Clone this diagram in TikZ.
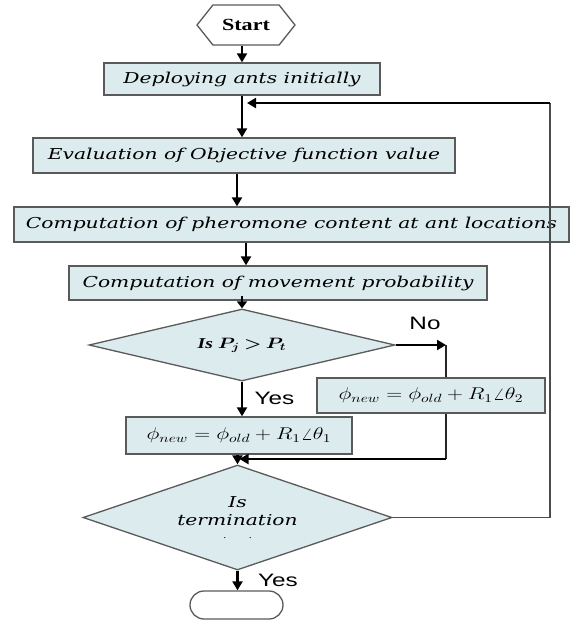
\RequirePackage{fix-cm}
\documentclass[tikz,border=0pt]{standalone}
\usepackage{amsmath,bm,graphicx}
\usepackage{fontspec}
\usetikzlibrary{shapes.geometric,shapes.symbols,shapes.misc,arrows.meta}
\newfontfamily\boxfont[FakeStretch=1.35]{DejaVu Serif}
\newfontfamily\startfont[FakeStretch=1.3]{Liberation Serif}
\newfontfamily\labfont[FakeStretch=1.35]{Liberation Sans}
\newcommand\hstr[1]{\scalebox{1.3}[1]{#1}}
\definecolor{boxfill}{HTML}{DCEBEE}
\definecolor{edgec}{HTML}{5A5A5A}
\tikzset{
  stepbox/.style={draw=edgec, line width=1.3pt, fill=boxfill, inner sep=0pt,
    font=\boxfont\itshape\fontsize{15}{18}\selectfont},
  mathbox/.style={draw=edgec, line width=1.3pt, fill=boxfill, inner sep=0pt,
    font=\fontsize{17}{20}\selectfont},
  decision/.style={diamond, draw=edgec, line width=1.3pt, fill=boxfill, inner sep=0pt,
    align=center},
  startshape/.style={signal, signal to=east and west, signal pointer angle=103,
    draw=edgec, line width=1.3pt, fill=white, inner sep=0pt,
    minimum width=98pt, minimum height=40pt,
    font=\startfont\bfseries\fontsize{17}{20}\selectfont},
  endshape/.style={rounded rectangle, draw=edgec, line width=1.3pt, fill=white,
    inner sep=0pt, minimum width=93pt, minimum height=28pt},
  lab/.style={font=\labfont\fontsize{18}{20}\selectfont, inner sep=0pt},
  arr/.style={draw=black, line width=2.2pt, -{Triangle[length=9pt,width=10pt]}},
  shortarr/.style={draw=black, line width=2.2pt, -{Triangle[length=7pt,width=10pt]}},
  conn/.style={draw=black!85, line width=1.7pt},
  fback/.style={draw=black!70, line width=1.6pt}
}
\begin{document}
\begin{tikzpicture}[x=1pt,y=-1pt]
\useasboundingbox (0,0) rectangle (571,622);
\node[startshape] (start) at (246,25) {Start};
\node[stepbox, minimum width=276pt, minimum height=32pt] (b1) at (242,79) {Deploying ants initially};
\node[stepbox, minimum width=422pt, minimum height=35pt] (b2) at (244,155.5) {Evaluation of Objective function value};
\node[stepbox, minimum width=555pt, minimum height=35pt] (b3) at (291.5,224.5) {Computation of pheromone content at ant locations};
\node[stepbox, minimum width=418pt, minimum height=34pt] (b4) at (278,283) {Computation of movement probability};
\node[decision, aspect=4.25, minimum width=306pt, minimum height=72pt,
  font=\startfont\bfseries\itshape\fontsize{15}{17}\selectfont] (d1) at (242,345)
  {Is \hstr{$\bm{P_{j}}\mathbin{\bm{>}}\bm{P_{t}}$}};
\node[mathbox, minimum width=228pt, minimum height=35pt] (b6) at (431,395.5)
  {\hstr{$\phi_{new}=\phi_{old}+R_{1}\angle\theta_{2}$}};
\node[mathbox, minimum width=226pt, minimum height=37pt] (b5) at (239,435.5)
  {\hstr{$\phi_{new}=\phi_{old}+R_{1}\angle\theta_{1}$}};
\node[decision, aspect=2.94, minimum width=309pt, minimum height=105pt,
  font=\boxfont\itshape\fontsize{15}{18}\selectfont] (d2) at (237.5,517.5)
  {Is\\termination\\[-5pt]{\fontsize{8}{8}\selectfont .\hspace{22pt}.}};
\node[endshape] (term) at (236.5,605) {};
\node[lab] (no) at (425,323) {No};
\node[lab] (yes1) at (274.5,398) {Yes};
\node[lab] (yes2) at (278,580) {Yes};
% helper coordinates
\coordinate (a0) at (242,0);
\coordinate (a2) at (237,0);
\coordinate (a3) at (246,0);
\coordinate (nb) at (446,345);
\coordinate (jn) at (446,459);
\coordinate (fbx) at (550,0);
\coordinate (m1) at (247,103);
% main flow
\draw[arr] (a0 |- start.south) -- (a0 |- b1.north);
\draw[arr] (a0 |- b1.south) -- (a0 |- b2.north);
\draw[arr] (a2 |- b2.south) -- (a2 |- b3.north);
\draw[arr] (a3 |- b3.south) -- (a3 |- b4.north);
\draw[shortarr] ([yshift=5pt]d1.north |- b4.south) -- (d1.north);
\draw[arr] (d1.south) -- (d1.south |- b5.north);
\draw[arr] (d2.north |- b5.south) -- (d2.north);
\draw[arr] (d2.south) -- (d2.south |- term.north);
% no branch
\draw[arr] (d1.east) -- (nb);
\draw[conn] (nb) -- (nb |- b6.north);
\draw[conn] (nb |- b6.south) -- (jn);
\draw[arr] (jn) -- ([xshift=2pt]jn -| d2.north);
% feedback
\draw[fback] (d2.east) -- (d2.east -| fbx) -- (fbx |- m1);
\draw[arr] (fbx |- m1) -- (m1);
\end{tikzpicture}
\end{document}
